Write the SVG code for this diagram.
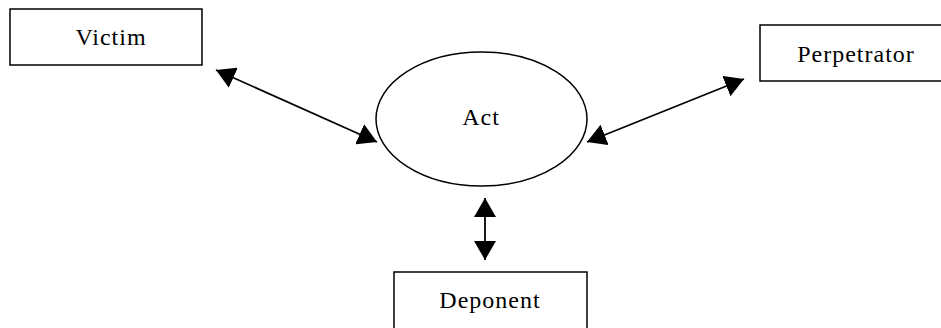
<svg xmlns="http://www.w3.org/2000/svg" width="941" height="328" viewBox="0 0 941 328">
<style>
.box{fill:#fff;stroke:#000;stroke-width:1.5}
.lbl{font-family:"Liberation Serif","Times New Roman",serif;font-size:24px;letter-spacing:1px;fill:#000;text-anchor:middle}
.conn{stroke:#000;stroke-width:1.8;fill:none;marker-start:url(#ah);marker-end:url(#ah)}
</style>
<defs>
<marker id="ah" markerUnits="userSpaceOnUse" markerWidth="20" markerHeight="22" refX="19" refY="11" orient="auto-start-reverse" viewBox="0 0 20 22">
<path d="M0,0 L19,11 L0,22 z" fill="#000"/>
</marker>
</defs>
<rect width="941" height="328" fill="#fff"/>
<g id="victim"><rect class="box" x="10" y="9" width="192" height="56"/><text class="lbl" x="111" y="45">Victim</text></g>
<g id="perpetrator"><rect class="box" x="760" y="25" width="200" height="56"/><text class="lbl" x="856" y="62">Perpetrator</text></g>
<g id="act"><ellipse class="box" cx="481.5" cy="119" rx="105.5" ry="67"/><text class="lbl" x="481" y="125">Act</text></g>
<g id="deponent"><rect class="box" x="394" y="272" width="193" height="70"/><text class="lbl" x="490" y="308">Deponent</text></g>
<g id="connectors">
<line class="conn" x1="216" y1="70" x2="377" y2="142"/>
<line class="conn" x1="744" y1="79" x2="587" y2="142"/>
<line class="conn" x1="485" y1="198" x2="485" y2="260"/>
</g>
</svg>
